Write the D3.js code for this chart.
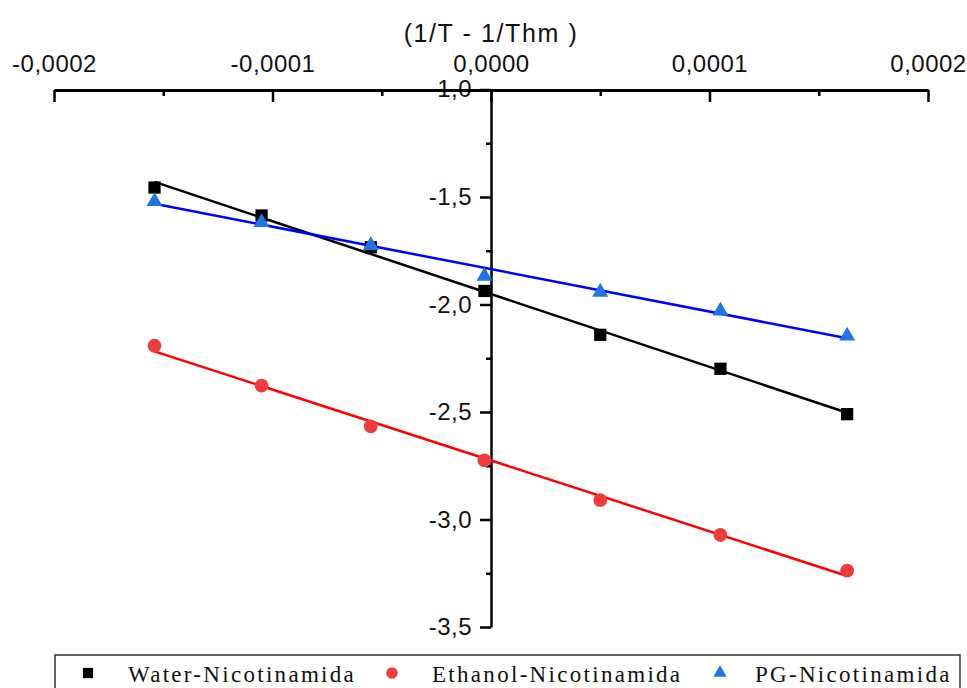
<!DOCTYPE html>
<html>
<head>
<meta charset="utf-8">
<script src="https://cdn.jsdelivr.net/npm/d3@7"></script>
<style>
  body { margin: 0; background: #fff; }
  svg { display: block; }
</style>
</head>
<body>
<div id="chart"></div>
<script>
// 1/T - 1/Thm values
const xValues = [-0.000154, -0.000105, -0.000055, -0.000003, 0.000050, 0.000105, 0.000163]
const water = [-1.456, -1.586, -1.734, -1.937, -2.141, -2.299, -2.510]
const ethanol = [-2.192, -2.377, -2.567, -2.725, -2.910, -3.072, -3.238]
const pg = [-1.521, -1.618, -1.725, -1.868, -1.942, -2.030, -2.146]
const seriesNames = ["Water-Nicotinamida", "Ethanol-Nicotinamida", "PG-Nicotinamida"]
const xTicks = [-0.0002, -0.0001, 0, 0.0001, 0.0002]
const yTicks = [-1.0, -1.5, -2.0, -2.5, -3.0, -3.5]

const series = [
    { name: seriesNames[0], values: water, marker: d3.symbolSquare, fill: "#000000", line: "#000000", size: 150 },
    { name: seriesNames[1], values: ethanol, marker: d3.symbolCircle, fill: "#f03c3c", line: "#ff0000", size: 150 },
    { name: seriesNames[2], values: pg, marker: d3.symbolTriangle, fill: "#1f74e6", line: "#0000ff", size: 110 }
]

const width = 967, height = 688
const svg = d3.select("#chart").append("svg")
    .attr("width", width)
    .attr("height", height)

const x = d3.scaleLinear().domain([-0.0002, 0.0002]).range([54, 928])
const y = d3.scaleLinear().domain([-1.0, -3.5]).range([89.5, 627])

const comma = f => v => f(v).replace(".", ",").replace("−", "-")
const axisFont = "'Liberation Sans', Arial, sans-serif"

// least squares fit for each series
function fit(xs, ys) {
    const mx = d3.mean(xs), my = d3.mean(ys)
    const b = d3.sum(xs, (v, i) => (v - mx) * (ys[i] - my)) / d3.sum(xs, v => (v - mx) ** 2)
    return { slope: b, intercept: my - b * mx }
}

// y axis (crosses at x = 0)
const yAxis = svg.append("g")
    .attr("transform", `translate(${x(0)},0)`)
    .call(d3.axisLeft(y).tickValues(yTicks).tickSizeInner(11).tickSizeOuter(0).tickPadding(8).tickFormat(comma(d3.format(".1f"))))
// the -1,0 label sits on the top axis: nudge so the line swallows its minus sign
yAxis.selectAll(".tick").filter(d => d === -1.0).select("text").attr("y", -0.8)
svg.append("g")
    .attr("transform", `translate(${x(0)},0)`)
    .call(d3.axisLeft(y).tickValues([-1.25, -1.75, -2.25, -2.75, -3.25]).tickSize(5).tickFormat(""))
    .call(g => g.select(".domain").remove())

// fit lines
series.forEach(s => {
    const f = fit(xValues, s.values)
    const x0 = d3.min(xValues), x1 = d3.max(xValues)
    svg.append("line")
        .attr("x1", x(x0)).attr("y1", y(f.intercept + f.slope * x0))
        .attr("x2", x(x1)).attr("y2", y(f.intercept + f.slope * x1))
        .attr("stroke", s.line)
        .attr("stroke-width", 2.5)
})

// markers
series.forEach(s => {
    svg.append("g").selectAll("path")
        .data(s.values)
        .join("path")
        .attr("transform", (d, i) => `translate(${x(xValues[i])},${y(d)})`)
        .attr("d", d3.symbol().type(s.marker).size(s.size))
        .attr("fill", s.fill)
})

// top x axis, drawn last so it hides the minus of the -1,0 label like the original
const topAxis = svg.append("g")
    .attr("transform", "translate(0,90)")
    .call(d3.axisTop(x).tickValues(xTicks).tickSizeInner(-12).tickSizeOuter(0).tickPadding(18).tickFormat(comma(d3.format(".4f"))))
svg.append("g")
    .attr("transform", "translate(0,90)")
    .call(d3.axisTop(x).tickValues([-0.00015, -0.00005, 0.00005, 0.00015]).tickSize(-6).tickFormat(""))
    .call(g => g.select(".domain").remove())

svg.selectAll(".domain, .tick line")
    .attr("stroke", "#000")
    .attr("stroke-width", 2.5)
topAxis.select(".domain").attr("stroke-width", 3)
svg.selectAll(".tick text")
    .attr("fill", "#111")
    .style("font-family", axisFont)
    .style("font-size", "24px")
    .style("letter-spacing", "0.5px")

svg.append("text")
    .attr("x", x(0))
    .attr("y", 42)
    .attr("text-anchor", "middle")
    .style("font-family", axisFont)
    .style("font-size", "25px")
    .style("letter-spacing", "1.6px")
    .attr("fill", "#111")
    .text("(1/T - 1/Thm )")

// legend
const legend = svg.append("g")
legend.append("rect")
    .attr("x", 55).attr("y", 655)
    .attr("width", 905).attr("height", 45)
    .attr("fill", "none")
    .attr("stroke", "#333")
    .attr("stroke-width", 1.5)
const legendX = [88, 392, 720]
const legendTextX = [128, 432, 755]
series.forEach((s, i) => {
    legend.append("path")
        .attr("transform", `translate(${legendX[i]},673)`)
        .attr("d", d3.symbol().type(s.marker).size(s.size * 0.7))
        .attr("fill", s.fill)
    legend.append("text")
        .attr("x", legendTextX[i])
        .attr("y", 682)
        .style("font-family", "'Liberation Serif', 'Times New Roman', serif")
        .style("font-size", "23px")
        .style("letter-spacing", "2.3px")
        .attr("fill", "#111")
        .text(s.name)
})
</script>
</body>
</html>
